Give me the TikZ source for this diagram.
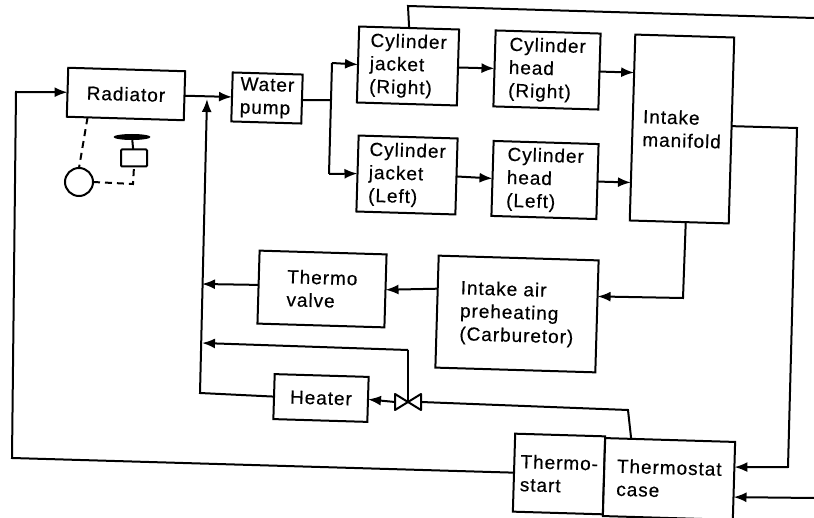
\documentclass[tikz,border=0pt]{standalone}
\usepackage{fontspec}
\setmainfont[LetterSpace=5,FakeBold=0.4]{Liberation Sans}
\usetikzlibrary{arrows.meta,shapes.geometric}
\tikzset{
  box/.style={draw=black,line width=2pt,fill=white,rectangle,inner sep=0pt,outer sep=0pt,rotate=-1.7,
    align=left,font=\fontsize{19}{23}\selectfont,text=black},
  line/.style={draw=black,line width=2pt},
  flow/.style={line,-{Latex[length=13pt,width=10pt]}},
  dashline/.style={draw=black,line width=2pt,dash pattern=on 7pt off 5pt},
  part/.style={draw=black,line width=2pt,inner sep=0pt,outer sep=0pt}
}
\begin{document}
\begin{tikzpicture}[x=1pt,y=-1pt]
\useasboundingbox (0,0) rectangle (814,518);
\fill[white] (0,0) rectangle (814,518);
% boxes
\node[box,minimum width=117pt,minimum height=49pt] (rad) at (126,94) {Radiator};
\node[box,minimum width=70pt,minimum height=49pt] (pump) at (267,98) {Water\\pump};
\node[box,minimum width=100pt,minimum height=76pt] (jr) at (408,66) {Cylinder\\jacket\\(Right)};
\node[box,minimum width=105pt,minimum height=76pt] (hr) at (547,70) {Cylinder\\head\\(Right)};
\node[box,minimum width=99pt,minimum height=186pt] (im) at (682,129) {Intake\\manifold};
\node[box,minimum width=99pt,minimum height=76pt] (jl) at (407,175) {Cylinder\\jacket\\(Left)};
\node[box,minimum width=105pt,minimum height=75pt] (hl) at (545,180) {Cylinder\\head\\(Left)};
\node[box,minimum width=127pt,minimum height=73pt] (tv) at (322,289) {Thermo\\valve};
\node[box,minimum width=160pt,minimum height=112pt] (ia) at (517,314) {Intake air\\preheating\\(Carburetor)};
\node[box,minimum width=94pt,minimum height=45pt] (ht) at (321,398) {Heater};
\node[box,minimum width=90pt,minimum height=78pt] (ts) at (559,474) {Thermo-\\start};
\node[box,minimum width=130pt,minimum height=78pt] (tc) at (669,479) {Thermostat\\case};
% valve
\node[inner sep=0pt,outer sep=0pt,minimum width=26pt,minimum height=16pt] (v) at (408,402) {};
\draw[line,fill=white,line join=round] (v.north west) -- (v.south east) -- (v.north east) -- (v.south west) -- cycle;
% fan and motor
\node[part,circle,minimum size=28pt] (mot) at (79,182) {};
\node[part,rectangle,rounded corners=1pt,minimum width=26pt,minimum height=17pt] (fb) at (134,158) {};
\node[fill=black,ellipse,inner sep=0pt,minimum width=37pt,minimum height=6pt] (fan) at (132,137) {};
\draw[line] (fan) -- (fb);
\coordinate (mbend) at (133,184);
\draw[dashline] (rad.213) -- (mot.north);
\draw[dashline] (mot.east) -- (mbend) -- (fb.south);
% bend points and free ends
\coordinate (a1) at (12,458);
\coordinate (a2) at (16,92);
\coordinate (b1) at (200,393);
\coordinate (b2) at (207,99);
\coordinate (t1) at (202,284);
\coordinate (t2) at (202,343);
\coordinate (c1) at (408,350);
\coordinate (d1) at (628,410);
\coordinate (e0) at (331,100);
\coordinate (e1) at (332,63);
\coordinate (e2) at (329,174);
\coordinate (f1) at (408,6);
\coordinate (f2) at (814,18);
\coordinate (g1) at (797,128);
\coordinate (g2) at (788,467);
\coordinate (h1) at (683,298);
\coordinate (k1) at (814,498);
% connectors
\draw[flow] (ts.west) -- (a1) -- (a2) -- (rad.west);
\draw[flow] (rad.east) -- (pump.west);
\draw[flow] (ht.west) -- (b1) -- (b2);
\draw[flow] (tv.178) -- (t1);
\draw[flow] (c1) -- (t2);
\draw[line] (v.center) -- (c1);
\draw[flow] (v.west) -- (ht.east);
\draw[line] (tc.135.4) -- (d1) -- (v.east);
\draw[line] (pump.-2) -- (e0);
\draw[line] (e1) -- (e2);
\draw[flow] (e1) -- (jr.west);
\draw[flow] (e2) -- (jl.west);
\draw[flow] (jr.east) -- (hr.west);
\draw[flow] (jl.east) -- (hl.west);
\draw[flow] (hr.east) -- (im.132.4);
\draw[flow] (hl.east) -- (im.228.4);
\draw[line] (jr.north) -- (f1) -- (f2);
\draw[flow] (im.5) -- (g1) -- (g2) -- (tc.12);
\draw[flow] (k1) -- (tc.-14);
\draw[flow] (im.-86.5) -- (h1) -- (ia.14.4);
\draw[flow] (ia.164.7) -- (tv.1.7);
\end{tikzpicture}
\end{document}
